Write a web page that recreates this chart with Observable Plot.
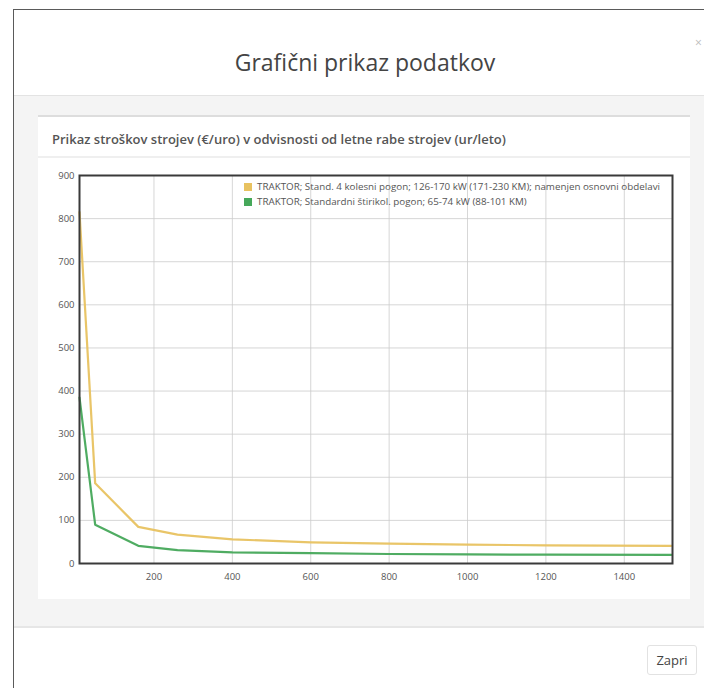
<!DOCTYPE html>
<html>
<head>
<meta charset="utf-8">
<script src="https://cdn.jsdelivr.net/npm/d3@7"></script>
<script src="https://cdn.jsdelivr.net/npm/@observablehq/plot@0.6"></script>
<style>
  html, body { margin: 0; padding: 0; background: #fff; width: 704px; height: 688px; overflow: hidden; font-family: "Open Sans", sans-serif; }
  #modal { position: absolute; left: 13px; top: 9px; width: 720px; height: 700px; border: 1.5px solid #5a5a5a; background: #fff; box-sizing: border-box; }
  #title { position: absolute; left: 0; top: 9px; width: 730px; height: 86px; text-align: center; line-height: 106px; font-size: 23px; color: #444; }
  #close { position: absolute; left: 695px; top: 34px; font-size: 12px; color: #bbb; }
  #hdrsep { position: absolute; left: 14px; top: 95px; width: 690px; height: 1px; background: #e3e3e3; }
  #body { position: absolute; left: 14px; top: 96px; width: 690px; height: 530px; background: #f4f4f4; }
  #panel { position: absolute; left: 38px; top: 115px; width: 652px; height: 484px; background: #fff; border-top: 2px solid #ddd; box-sizing: border-box; }
  #phead { position: absolute; left: 0; top: 0; width: 652px; height: 41px; border-bottom: 2px solid #efefef; box-sizing: border-box; font-size: 13px; font-weight: 600; color: #555; line-height: 44px; padding-left: 14px; white-space: nowrap; }
  #chart { position: absolute; left: 38px; top: 158px; }
  #legend { position: absolute; left: 244px; top: 179px; font-size: 9.8px; color: #555; line-height: 15px; white-space: nowrap; }
  #legend .sw { display: inline-block; width: 8px; height: 8px; margin-right: 5px; vertical-align: -1px; }
  #footsep { position: absolute; left: 14px; top: 626px; width: 690px; height: 2px; background: #e6e6e6; }
  #btn { position: absolute; left: 647px; top: 645px; width: 50px; height: 30px; border: 1px solid #e2e2e2; border-radius: 3px; box-sizing: border-box; text-align: center; line-height: 28px; font-size: 13px; color: #444; background: #fff; }
</style>
</head>
<body>
<div id="modal"></div>
<div id="title">Grafični prikaz podatkov</div>
<div id="close">×</div>
<div id="hdrsep"></div>
<div id="body"></div>
<div id="panel"><div id="phead">Prikaz stroškov strojev (€/uro) v odvisnosti od letne rabe strojev (ur/leto)</div></div>
<div id="chart"></div>
<div id="legend"></div>
<div id="footsep"></div>
<div id="btn">Zapri</div>
<script>
const seriesNames = [
  "TRAKTOR; Stand. 4 kolesni pogon; 126-170 kW (171-230 KM); namenjen osnovni obdelavi",
  "TRAKTOR; Standardni štirikol. pogon; 65-74 kW (88-101 KM)"
];
const seriesColors = ["#e8c260", "#46a85a"];
const hours = [10, 50, 160, 260, 400, 600, 800, 1000, 1200, 1520];
const costA = [815, 186, 85, 67, 56, 49, 46, 44, 42, 41];
const costB = [385, 90, 41, 31, 26, 24, 22, 21, 20.5, 20];
const xTicks = [200, 400, 600, 800, 1000, 1200, 1400];
const yTicks = [0, 100, 200, 300, 400, 500, 600, 700, 800, 900];

const data = [];
hours.forEach((h, i) => {
  data.push({ s: seriesNames[0], x: h, y: costA[i] });
  data.push({ s: seriesNames[1], x: h, y: costB[i] });
});

const plot = Plot.plot({
  width: 652,
  height: 441,
  marginLeft: 41,
  marginTop: 17,
  marginRight: 18,
  marginBottom: 36,
  style: { fontFamily: "Open Sans, sans-serif", fontSize: "9.5px", color: "#555", background: "#fff" },
  x: { domain: [10, 1523], label: null },
  y: { domain: [0, 900], label: null },
  color: { domain: seriesNames, range: seriesColors },
  marks: [
    Plot.gridX(xTicks, { stroke: "#ccc", strokeOpacity: 0.8 }),
    Plot.gridY(yTicks, { stroke: "#ccc", strokeOpacity: 0.8 }),
    Plot.axisX({ ticks: xTicks, tickSize: 0, tickPadding: 10, tickFormat: d => String(d) }),
    Plot.axisY({ ticks: yTicks, tickSize: 0, tickPadding: 5, tickFormat: d => String(d) }),
    Plot.line(data, { x: "x", y: "y", z: "s", stroke: "s", strokeWidth: 2.2, strokeOpacity: 0.95 }),
    Plot.frame({ stroke: "#3a3a3a", strokeWidth: 2 })
  ]
});
document.getElementById("chart").appendChild(plot);

const leg = document.getElementById("legend");
seriesNames.forEach((n, i) => {
  const row = document.createElement("div");
  const sw = document.createElement("span");
  sw.className = "sw";
  sw.style.background = seriesColors[i];
  row.appendChild(sw);
  row.appendChild(document.createTextNode(n));
  leg.appendChild(row);
});
</script>
</body>
</html>
